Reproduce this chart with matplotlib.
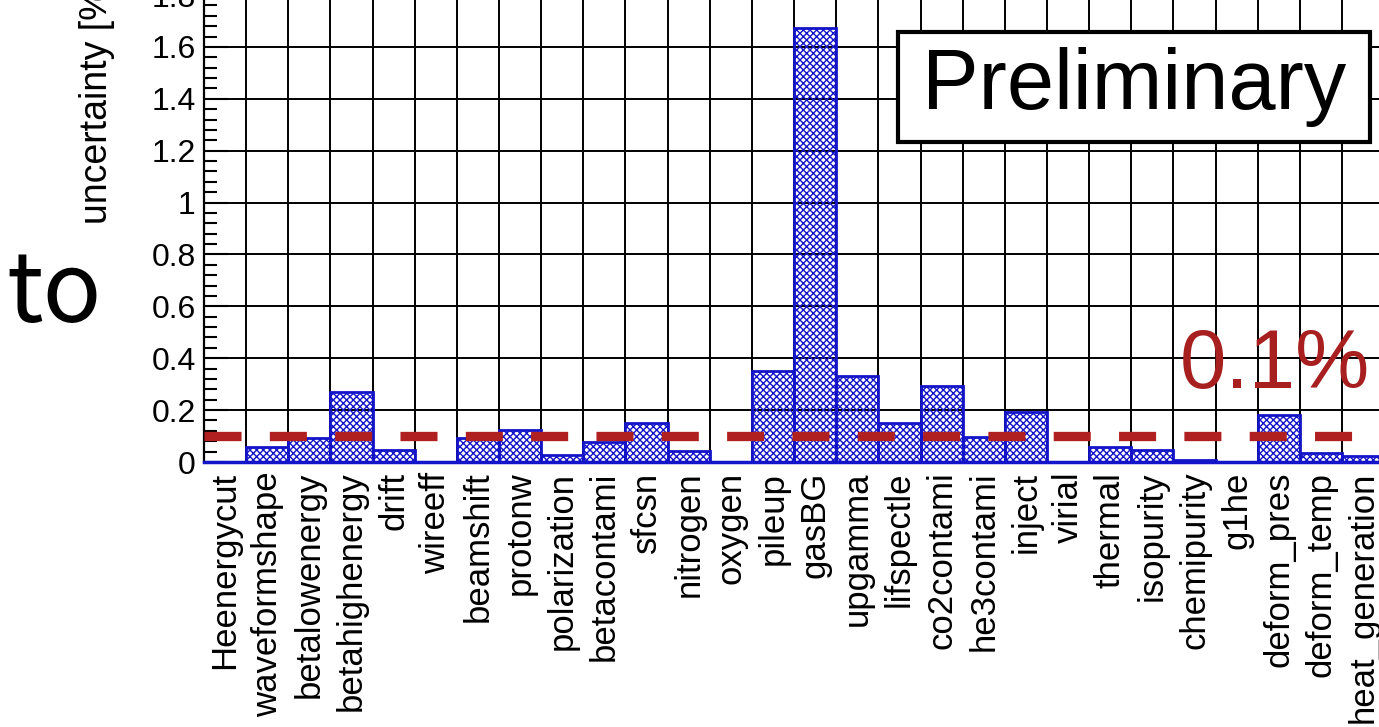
import matplotlib
matplotlib.use("Agg")
import matplotlib.pyplot as plt
import numpy as np
from matplotlib.ticker import MultipleLocator, FixedLocator, FormatStrFormatter
from matplotlib.patches import Rectangle

plt.rcParams['font.family'] = ['Liberation Sans', 'DejaVu Sans']
plt.rcParams['hatch.linewidth'] = 1.0

# systematic sources and their uncertainty [%]
sources = ['Heenergycut', 'waveformshape', 'betalowenergy', 'betahighenergy',
           'drift', 'wireeff', 'beamshift', 'protonw', 'polarization',
           'betacontami', 'sfcsn', 'nitrogen', 'oxygen', 'pileup', 'gasBG',
           'upgamma', 'lifspectle', 'co2contami', 'he3contami', 'inject',
           'virial', 'thermal', 'isopurity', 'chemipurity', 'g1he',
           'deform_pres', 'deform_temp', 'heat_generation']
uncert = [0.0, 0.059, 0.091, 0.271,
          0.046, 0.0, 0.094, 0.123, 0.027,
          0.078, 0.151, 0.044, 0.0, 0.352, 1.672,
          0.333, 0.150, 0.293, 0.096, 0.193,
          0.0, 0.059, 0.046, 0.006, 0.0,
          0.181, 0.033, 0.025]
target = 0.1

W, H = 1379, 727
fig = plt.figure(figsize=(W / 100, H / 100), dpi=100)

# axes run past the top and right edges of the canvas
x0, y0 = 204, 462
bin_px = 42.15
unit_px = 259.4
ymax = 1.9
ax = fig.add_axes([x0 / W, (H - y0) / H, len(sources) * bin_px / W, ymax * unit_px / H])

blue = '#1414c8'
n = len(sources)
centers = np.arange(n) + 0.5

ax.set_axisbelow(True)
ax.bar(centers, uncert, width=1.0, facecolor='none', edgecolor=blue,
       hatch='xxxxx', linewidth=2.0, zorder=2)

# threshold line
ax.plot([0, 27.3], [target, target], color='#b02020', lw=6.7,
        dashes=(3.98, 3.04), dash_capstyle='butt', zorder=4)

ax.set_xlim(0, n)
ax.set_ylim(0, ymax)

ax.xaxis.set_major_locator(FixedLocator(centers))
ax.set_xticklabels(sources, rotation=90, fontsize=25, va='top', ha='center')
ax.xaxis.set_minor_locator(MultipleLocator(1))
ax.tick_params(axis='x', which='both', length=0, pad=7)

ax.yaxis.set_major_locator(MultipleLocator(0.2))
ax.yaxis.set_minor_locator(MultipleLocator(0.04))
ax.yaxis.set_major_formatter(FormatStrFormatter('%g'))
ax.tick_params(axis='y', which='major', direction='in', length=17, width=1.5,
               labelsize=23, pad=6)
ax.tick_params(axis='y', which='minor', direction='in', length=9, width=1.5)

ax.yaxis.grid(True, which='major', color='black', lw=1.4)
ax.xaxis.grid(True, which='minor', color='black', lw=1.4)

for s in ['left', 'top', 'right']:
    ax.spines[s].set_color('black')
    ax.spines[s].set_linewidth(1.6)
ax.spines['bottom'].set_color(blue)
ax.spines['bottom'].set_linewidth(2.5)

# y title
fig.text(97 / W, (H - 224) / H, 'uncertainty [%]', rotation=90, fontsize=27,
         ha='center', va='bottom')

# Preliminary box
fig.patches.append(Rectangle((898 / W, (H - 141.7) / H), (1370 - 898) / W, 110 / H,
                             transform=fig.transFigure, facecolor='white',
                             edgecolor='black', lw=3, zorder=5))
fig.text(1134 / W, (H - 86.7) / H, 'Preliminary', fontsize=61,
         ha='center', va='center', zorder=6)

fig.text(1370 / W, (H - 388) / H, '0.1%', fontsize=60, color='#a81f1f',
         ha='right', va='baseline')

fig.text(6 / W, (H - 322) / H, 'to', fontsize=70,
         family=['Noto Sans CJK JP', 'DejaVu Sans'], ha='left', va='baseline')

fig.savefig('out.png', dpi=100)
